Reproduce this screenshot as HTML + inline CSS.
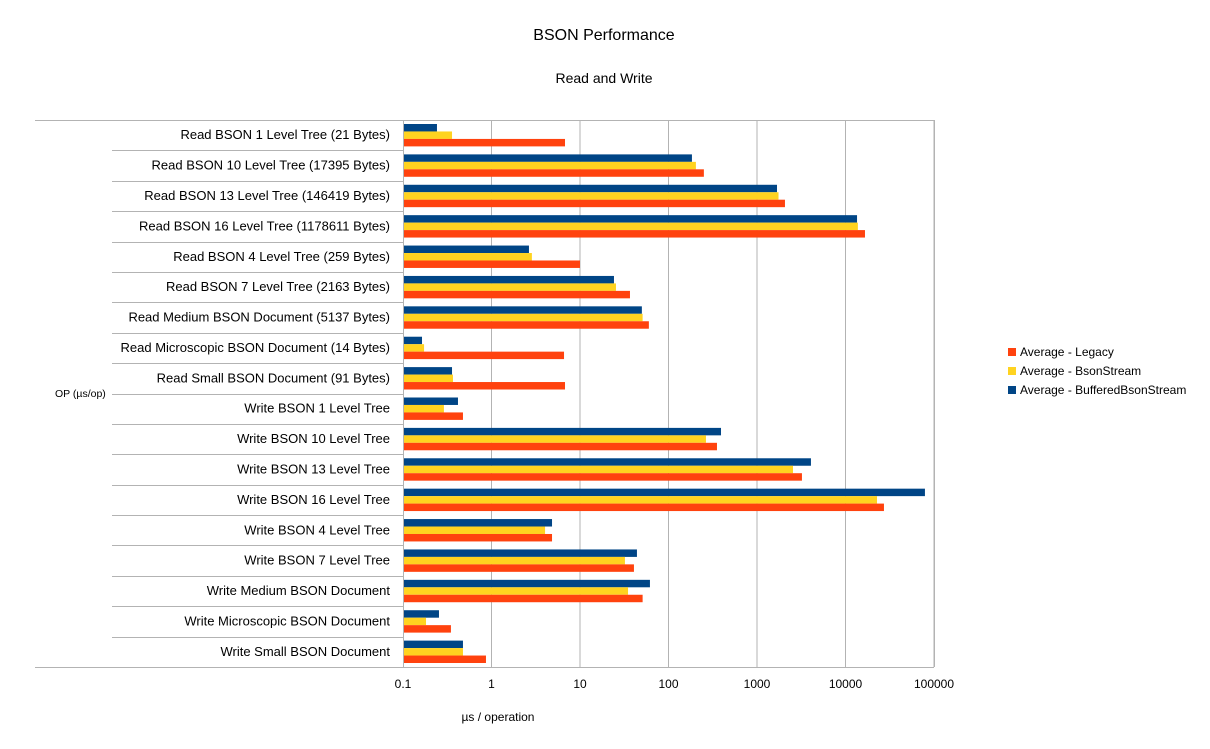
<!DOCTYPE html>
<html><head><meta charset="utf-8">
<style>
body{margin:0;background:#fff;font-family:"Liberation Sans",sans-serif;}
svg text{font-family:"Liberation Sans",sans-serif;fill:#000;}
</style></head><body>
<svg width="1210" height="744" id="c">
<text x="604" y="40" font-size="16" text-anchor="middle">BSON Performance</text>
<text x="604" y="83" font-size="14" text-anchor="middle">Read and Write</text>
<text x="498" y="721" font-size="12" text-anchor="middle">µs / operation</text>
<text x="55" y="397" font-size="10.5">OP (µs/op)</text>
<g id="grid"></g><g id="bars"></g><g id="cats"></g><g id="ticks"></g>
<g>
<rect x="1008" y="348" width="8" height="8" fill="#ff420e"/>
<text x="1020" y="356" font-size="12">Average - Legacy</text>
<rect x="1008" y="367" width="8" height="8" fill="#ffd320"/>
<text x="1020" y="375" font-size="12">Average - BsonStream</text>
<rect x="1008" y="386" width="8" height="8" fill="#004586"/>
<text x="1020" y="394" font-size="12">Average - BufferedBsonStream</text>
</g>
</svg>
<script>
const categories=["Read BSON 1 Level Tree (21 Bytes)","Read BSON 10 Level Tree (17395 Bytes)","Read BSON 13 Level Tree (146419 Bytes)","Read BSON 16 Level Tree (1178611 Bytes)","Read BSON 4 Level Tree (259 Bytes)","Read BSON 7 Level Tree (2163 Bytes)","Read Medium BSON Document (5137 Bytes)","Read Microscopic BSON Document (14 Bytes)","Read Small BSON Document (91 Bytes)","Write BSON 1 Level Tree","Write BSON 10 Level Tree","Write BSON 13 Level Tree","Write BSON 16 Level Tree","Write BSON 4 Level Tree","Write BSON 7 Level Tree","Write Medium BSON Document","Write Microscopic BSON Document","Write Small BSON Document"];
const buffered=[0.242,184,1683,13500,2.65,24.2,50,0.164,0.358,0.418,392,4070,79000,4.83,44,61.7,0.255,0.476];
const bsonStream=[0.358,204,1750,13800,2.86,25.5,51,0.173,0.367,0.29,265,2550,22700,4.03,32.2,34.9,0.182,0.476];
const legacy=[6.77,251,2070,16600,10,36.7,60,6.6,6.77,0.476,353,3220,27200,4.83,40.7,51,0.348,0.866];
const tickLabels=["0.1","1","10","100","1000","10000","100000"];
const tickValues=[0.1,1,10,100,1000,10000,100000];
const NS="http://www.w3.org/2000/svg";
const X0=403,X1=934,Y0=120,Y1=667;
const xs=v=>X0+(Math.log10(v)+1)/6*(X1-X0);
const rowH=(Y1-Y0)/categories.length;
function mk(t,a,p){const e=document.createElementNS(NS,t);for(const k in a)e.setAttribute(k,a[k]);document.getElementById(p).appendChild(e);return e;}
tickValues.forEach((v,i)=>{
 const x=xs(v);
 if(i>0){const l=mk('line',{x1:x,x2:x,y1:Y0,y2:Y1,stroke:'#b3b3b3'},'grid');
 
 }
 const t=mk('text',{x:x,y:688,'font-size':12,'text-anchor':'middle'},'ticks');t.textContent=tickLabels[i];
 
 
});
const topBorder=mk('line',{x1:35,x2:X1,y1:Y0+0.5,y2:Y0+0.5,stroke:'#b3b3b3'},'grid');


const botBorder=mk('line',{x1:35,x2:X1,y1:Y1+0.5,y2:Y1+0.5,stroke:'#b3b3b3'},'grid');


const axisLine=mk('line',{x1:X0+0.5,x2:X0+0.5,y1:Y0,y2:Y1,stroke:'#b3b3b3'},'grid');


const seriesList=[[buffered,'#004586'],[bsonStream,'#ffd320'],[legacy,'#ff420e']];
const bh=(rowH-8)/3;
categories.forEach((c,i)=>{
 const y=Y0+i*rowH;
 if(i>0){const l=mk('line',{x1:112,x2:X0,y1:Math.round(y)+0.5,y2:Math.round(y)+0.5,stroke:'#b3b3b3'},'grid');
 
 }
 const t=mk('text',{x:390,y:y+rowH/2+4,'font-size':13,'text-anchor':'end'},'cats');t.textContent=c;
 
 
 seriesList.forEach((s,j)=>{
  const r=mk('rect',{x:X0+1,y:y+4+j*bh,width:xs(s[0][i])-X0-1,height:bh,fill:s[1]},'bars');
  
  
 });
});
const rightBorder=mk('line',{x1:X1+0.5,x2:X1+0.5,y1:Y0,y2:Y1,stroke:'#b3b3b3'},'grid');


</script>
</body></html>
